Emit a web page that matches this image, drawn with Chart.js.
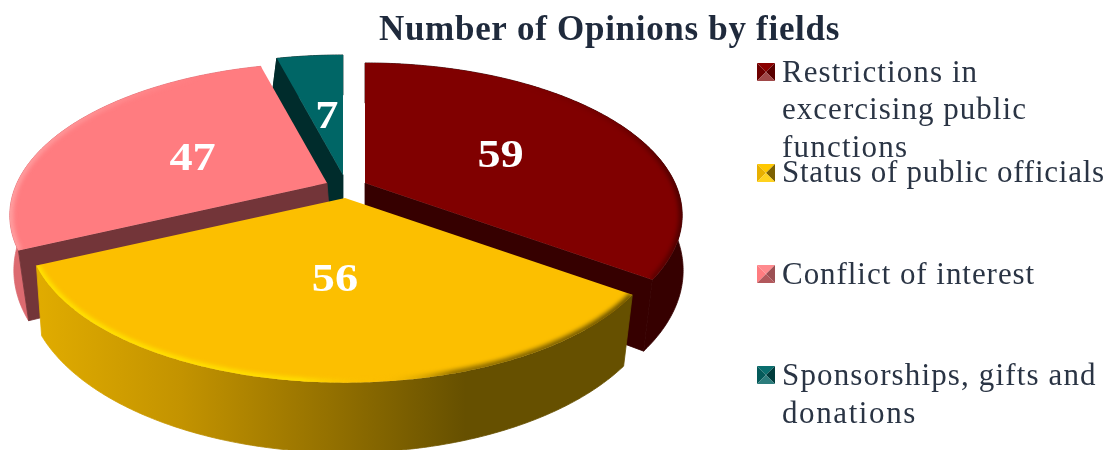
<!DOCTYPE html>
<html>
<head>
<meta charset="utf-8">
<script src="https://cdn.jsdelivr.net/npm/chart.js@4/dist/chart.umd.js"></script>
<style>html,body{margin:0;padding:0;background:#fff;overflow:hidden}canvas{display:block}</style>
</head>
<body>
<canvas id="c" width="1110" height="450"></canvas>
<script>
const categories = ["Restrictions in excercising public functions", "Status of public officials", "Conflict of interest", "Sponsorships, gifts and donations"];
const opinions = [59, 56, 47, 7];
const titleText = "Number of Opinions by fields";
const legendLines = [["Restrictions in", "excercising public", "functions"], ["Status of public officials"], ["Conflict of interest"], ["Sponsorships, gifts and", "donations"]];
const lineSpacing = [[1.08, 1.03, 1.2], [0.75], [0.95], [1.14, 1.6]];
const topColors = ["#800000", "#fcbf00", "#ff7c80", "#006666"];
const cutColors = ["#360000", "#665000", "#733539", "#002c2c"];
const rimColors = ["#360000", null, "#dc6a70", "#002c2c"];
const apexes = [[365, 183], [345, 198], [327, 183], [343, 175]];
const lowerShift = [0, 0, 5, 0];
const labelNudges = [[4, 2], [6, -2], [0, 3], [2, 5]];
const legendTops = [63, 164, 265, 366];
const lineBaselines = [[82, 119, 157], [182], [284], [385, 423]];

// projection of the pie plane and of the lower face (fitted to the picture)
const A = 310, B = 145.5, P = 0.212;
const A2 = 315, B2 = 155, P2 = 0.14, D2 = 64;
function project(apex, X, Y, lower, shift) {
  if (lower) {
    const w = 1 - P2 * Y;
    return [apex[0] + (shift || 0) + A2 * X / w, apex[1] + (B2 * Y + D2) / w];
  }
  const w = 1 - P * Y;
  return [apex[0] + A * X / w, apex[1] + B * Y / w];
}
function rim(el, apex, lower, shift) {
  const pts = [], n = Math.max(4, Math.ceil((el.endAngle - el.startAngle) * 90));
  for (let i = 0; i <= n; i++) {
    const t = el.startAngle + (el.endAngle - el.startAngle) * i / n + Math.PI / 2;
    pts.push(project(apex, Math.sin(t), -Math.cos(t), lower, shift));
  }
  return pts;
}
function poly(ctx, pts) {
  ctx.beginPath();
  pts.forEach((p, i) => i ? ctx.lineTo(p[0], p[1]) : ctx.moveTo(p[0], p[1]));
  ctx.closePath();
}
function hGrad(ctx, x0, x1, stops) {
  const g = ctx.createLinearGradient(x0, 0, x1, 0);
  stops.forEach(s => g.addColorStop(s[0], s[1]));
  return g;
}
function paint(ctx, fill) {
  ctx.fillStyle = fill;
  ctx.strokeStyle = fill;
  ctx.lineWidth = 0.8;
  ctx.lineJoin = "round";
  ctx.fill();
  ctx.stroke();
}
const bevels = [
  [520, 690, [[0, "rgba(60,0,0,0)"], [0.6, "rgba(60,0,0,.25)"], [1, "rgba(50,0,0,.7)"]]],
  [30, 635, [[0, "rgba(255,226,0,1)"], [0.45, "rgba(255,226,0,.9)"], [0.58, "rgba(252,191,0,0)"], [0.7, "rgba(90,70,0,.65)"], [1, "rgba(90,70,0,.9)"]]],
  [8, 200, [[0, "rgba(255,175,175,.7)"], [1, "rgba(255,175,175,0)"]]],
  null
];
function drawSlice(ctx, el, i) {
  const apex = apexes[i], shift = lowerShift[i];
  const t0 = el.startAngle + Math.PI / 2, t1 = el.endAngle + Math.PI / 2;
  const up = rim(el, apex, false), low = rim(el, apex, true, shift);
  const apexLow = project(apex, 0, 0, true, shift);
  // outer wall
  poly(ctx, up.concat(low.slice().reverse()));
  paint(ctx, rimColors[i] || hGrad(ctx, 30, 635, [[0, "#e2ad00"], [0.25, "#c39300"], [0.5, "#937000"], [0.72, "#665000"], [1, "#665000"]]));
  // cut walls, only those that face the viewer
  if (Math.sin(t0) < -0.01) {
    poly(ctx, [apex, up[0], low[0], apexLow]);
    paint(ctx, cutColors[i]);
  }
  if (Math.sin(t1) > 0.01) {
    poly(ctx, [apex, up[up.length - 1], low[low.length - 1], apexLow]);
    paint(ctx, cutColors[i]);
  }
  // top surface
  const top = [apex].concat(up);
  poly(ctx, top);
  ctx.fillStyle = topColors[i];
  ctx.fill();
  if (bevels[i]) {
    ctx.save();
    poly(ctx, top);
    ctx.clip();
    ctx.filter = "blur(2px)";
    ctx.beginPath();
    up.forEach((p, k) => k ? ctx.lineTo(p[0], p[1]) : ctx.moveTo(p[0], p[1]));
    ctx.strokeStyle = hGrad(ctx, bevels[i][0], bevels[i][1], bevels[i][2]);
    ctx.lineWidth = 7;
    ctx.stroke();
    ctx.restore();
  }
}
const marker = [
  ["#8a0000", "#6e0000", "#5a0000", "#a04848"],
  ["#ffc800", "#e8b000", "#7c6000", "#ffd21e"],
  ["#ff8a8e", "#ff7c80", "#9c5054", "#b2585c"],
  ["#0a6e6e", "#045a5a", "#003c3c", "#2c7c7c"]
];
const pie3d = {
  id: "pie3d",
  beforeDraw(chart) {
    chart.ctx.letterSpacing = "0.7px";
  },
  beforeDatasetsDraw(chart) {
    const ctx = chart.ctx, els = chart.getDatasetMeta(0).data;
    [3, 0, 2, 1].forEach(i => drawSlice(ctx, els[i], i));
    return false;
  },
  afterDraw(chart) {
    const ctx = chart.ctx, els = chart.getDatasetMeta(0).data;
    ctx.save();
    // value labels
    ctx.letterSpacing = "0px";
    ctx.font = "bold 41px 'Liberation Serif'";
    ctx.fillStyle = "#ffffff";
    ctx.textAlign = "center";
    ctx.textBaseline = "middle";
    els.forEach((el, i) => {
      const t = (el.startAngle + el.endAngle) / 2 + Math.PI / 2;
      const p = project(apexes[i], 0.5 * Math.sin(t), -0.5 * Math.cos(t), false);
      ctx.save();
      ctx.translate(p[0] + labelNudges[i][0], p[1] + 3 + labelNudges[i][1]);
      ctx.scale(1.13, 1);
      ctx.fillText(String(opinions[i]), 0, 0);
      ctx.restore();
    });
    // legend
    ctx.textAlign = "left";
    ctx.textBaseline = "alphabetic";
    ctx.font = "31px 'Liberation Serif'";
    legendLines.forEach((lines, i) => {
      const x = 757, y = legendTops[i], s = 18, m = marker[i], cx = x + s / 2, cy = y + s / 2;
      const tri = (a, b, c, col) => { poly(ctx, [a, b, c]); ctx.fillStyle = col; ctx.fill(); };
      tri([x, y], [x + s, y], [cx, cy], m[0]);
      tri([x, y], [x, y + s], [cx, cy], m[1]);
      tri([x + s, y], [x + s, y + s], [cx, cy], m[2]);
      tri([x, y + s], [x + s, y + s], [cx, cy], m[3]);
      ctx.fillStyle = "#2a3444";
      lines.forEach((line, k) => {
        ctx.letterSpacing = lineSpacing[i][k] + "px";
        ctx.fillText(line, 782, lineBaselines[i][k]);
      });
    });
    ctx.restore();
  }
};
new Chart(document.getElementById("c"), {
  type: "pie",
  data: { labels: categories, datasets: [{ data: opinions, backgroundColor: topColors, borderWidth: 0 }] },
  options: {
    responsive: false,
    animation: false,
    rotation: 0,
    layout: { padding: { left: 109, right: 0, top: 0, bottom: 0 } },
    plugins: {
      legend: { display: false },
      tooltip: { enabled: false },
      title: { display: true, text: titleText, color: "#1f2a3c", font: { family: "'Liberation Serif'", size: 35, weight: "bold" }, padding: { top: 10, bottom: 0 } }
    }
  },
  plugins: [pie3d]
});
</script>
</body>
</html>
